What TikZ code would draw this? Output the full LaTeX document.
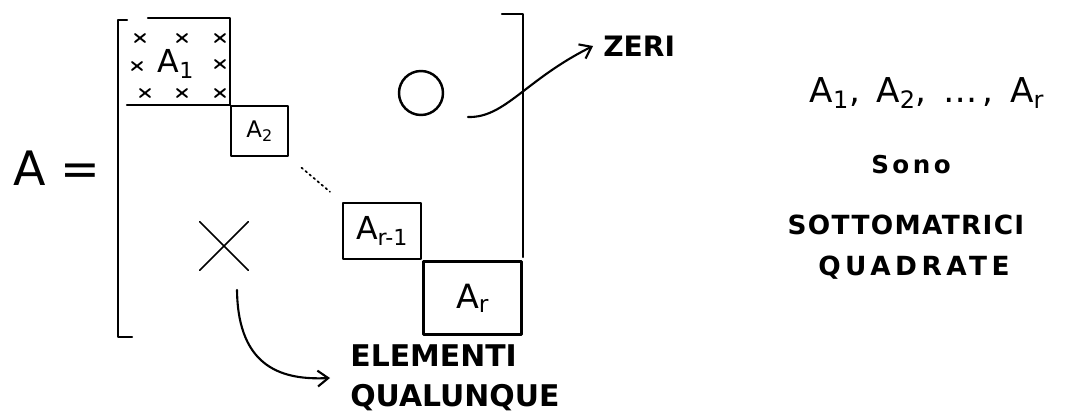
\documentclass[tikz,border=0pt]{standalone}
\usepackage{fontspec}
\setmainfont{DejaVu Sans}
\usetikzlibrary{arrows.meta,positioning}
\newcommand{\capsfont}[3]{\bfseries\fontsize{#1}{#2}\selectfont\addfontfeature{LetterSpace=#3}}

\begin{document}
\begin{tikzpicture}[x=0.02cm,y=-0.02cm,line cap=round,line join=round,
  rule/.style={line width=1.4pt},
  blk/.style={draw,line width=1.4pt,inner sep=0pt},
  arr/.style={-{Straight Barb[length=6pt,width=9pt]},line width=1.2pt}]
\useasboundingbox (0,0) rectangle (1082,412);
% left hand side
\node[anchor=west,inner sep=0pt,font=\fontsize{27}{27}\selectfont] (lhs) at (13,168) {A =};
% brackets
\draw[rule] (127,20) -- (118,20) -- (118,337) -- (132,337);
\draw[rule] (502,14) -- (523,14) -- (523,257);
% first block, full of elements
\node[font=\fontsize{18}{18}\selectfont,inner sep=0pt] (a1) at (176,64) {A\textsubscript{1}};
\foreach \p in {(140,38),(182,38),(220,38),(137,66),(220,64),(145,93),(182,93),(220,93)}
  \draw[line width=1.1pt] \p +(-5,-4) -- +(5,4) \p +(5,-4) -- +(-5,4);
\draw[rule] (148,18) -- (230,18) -- (230,105);
% diagonal blocks
\node[blk,minimum width=1.14cm,minimum height=1cm,anchor=north west,font=\fontsize{13}{13}\selectfont] (a2) at (230,105) {A\textsubscript{2}};
\draw[rule] (127,105) -- (a2.north west);
\node[blk,minimum width=1.56cm,minimum height=1.12cm,anchor=north west,font=\fontsize{18}{18}\selectfont] (ar1) at (342,202) {A\textsubscript{r-1}};
\node[blk,minimum width=1.96cm,minimum height=1.46cm,anchor=north west,font=\fontsize{19}{19}\selectfont] (ar) at (ar1.south east) {A\textsubscript{r}};
\draw[line width=1pt,dotted,shorten <=9pt,shorten >=9pt] (a2.south east) -- (ar1.north west);
% upper part: zeros
\node[draw,circle,line width=1.4pt,minimum size=0.88cm,inner sep=0pt] (zero) at (421,93) {};
\coordinate (zfrom) at (468,117);
\node[anchor=west,inner sep=0pt,font=\capsfont{16}{16}{0}] (zeri) at (603,46) {ZERI};
\draw[arr] (zfrom) .. controls (505,118) and (525,80) .. ([xshift=-0.2cm]zeri.west);
% lower part: any elements
\node[minimum size=0.96cm,inner sep=0pt] (xany) at (224,246) {};
\draw[line width=1pt] (xany.north west) -- (xany.south east) (xany.north east) -- (xany.south west);
\coordinate (xfrom) at (237,290);
\node[anchor=west,align=left,inner sep=0pt,font=\capsfont{17}{23}{0}] (elem) at (350,378) {ELEMENTI\\QUALUNQUE};
\draw[arr] (xfrom) .. controls (238,370) and (285,380) .. ([xshift=-0.4cm]elem.west);
% note on the right
\node[inner sep=0pt,font=\fontsize{19.5}{20}\selectfont\addfontfeature{LetterSpace=16}] (list) at (927,93) {A\textsubscript{1}, A\textsubscript{2}, \dots, A\textsubscript{r}};
\node[inner sep=0pt,font=\capsfont{14}{14}{14}] (sono) at (911,165) {Sono};
\node[inner sep=0pt,font=\capsfont{15}{15}{5}] (sott) at (906,225) {SOTTOMATRICI};
\node[inner sep=0pt,font=\capsfont{15}{15}{17}] (quad) at (914,268) {QUADRATE};
\end{tikzpicture}
\end{document}
